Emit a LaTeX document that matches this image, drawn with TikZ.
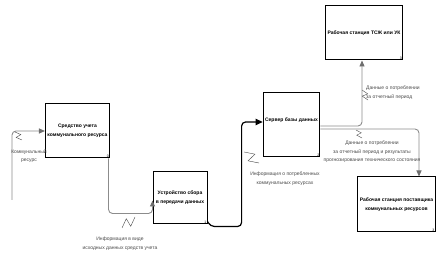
\documentclass[tikz,border=0pt]{standalone}
\usepackage{fontspec}
\setmainfont{Liberation Sans}
\usetikzlibrary{positioning,calc,arrows.meta}
\definecolor{flowgray}{HTML}{8C8C8C}
\definecolor{tipgray}{HTML}{6E6E6E}
\definecolor{labelgray}{HTML}{4A4A4A}
\tikzset{
  % --- function blocks ---
  func/.style={draw=black, line width=1pt, fill=white, align=center,
               font=\fontsize{5}{9}\selectfont\bfseries, inner sep=2pt},
  boxnum/.style={font=\fontsize{3.5}{4}\selectfont, inner sep=1pt,
                 anchor=south east},
  % --- arrows ---
  flow/.style={draw=flowgray, line width=0.9pt, rounded corners=4pt,
               -{Triangle[length=6pt,width=5pt,color=tipgray]}},
  flowmain/.style={draw=black, line width=1.2pt, rounded corners=4pt,
                   -{Triangle[length=7pt,width=6.5pt]}},
  % --- arrow labels ---
  flowlabel/.style={font=\fontsize{5}{8.5}\selectfont, text=labelgray,
                    align=center, inner sep=0pt},
  boltline/.style={draw=labelgray, line width=0.4pt},
}
\newcommand{\bolt}[2]{\draw[boltline] (#1) -- ($(#1)!.6!25:(#2)$)
  -- ($(#2)!.6!25:(#1)$) -- (#2);}

\begin{document}
\begin{tikzpicture}[x=1pt, y=-1pt]
  \useasboundingbox (0,0) rectangle (447,253);

  % --- blocks ---
  \node[func, minimum width=63pt, minimum height=54pt] (meter) at (77.5,131)
        {Средство учета\\коммунального ресурса};
  \node[func, minimum width=54pt, minimum height=52pt] (collect) at (180,198)
        {Устройство сбора\\в передачи данных};
  \node[func, minimum width=55pt, minimum height=64pt, text depth=10pt] (server) at (291.5,125)
        {Сервер базы данных};
  \node[func, minimum width=76pt, minimum height=54pt] (hoa) at (364,33)
        {Рабочая станция ТСЖ или УК};
  \node[func, minimum width=77pt, minimum height=55pt] (supplier) at (396.5,204.5)
        {Рабочая станция поставщика\\коммунальных ресурсов};

  % --- block numbers ---
  \node[boxnum] (n0) at (meter.south east) {0};
  \node[boxnum] (n1) at (collect.south east) {1};
  \node[boxnum] (n2) at (server.south east) {2};
  \node[boxnum] (n3) at (hoa.south east) {3};
  \node[boxnum] (n4) at (supplier.south east) {3};

  % --- arrows ---
  \coordinate (res) at (12,200);
  \draw[flow] (res) |- (meter.west);
  \draw[flow] ($(meter.south east)+(-1.5,0)$) |- ($(collect.south west)+(0,-11)$)
        [sharp corners] -- ($(collect.south west)+(0,-24)$);
  \draw[flowmain] ($(collect.south east)+(0,-3)$) -- ++(3,5)
        -| ($(server.west)+(-21,-3)$) -- ($(server.west)+(0,-3)$);
  \draw[flow] ($(server.east)+(0,1)$) -| ($(hoa.south)+(-2,0)$);
  \draw[flow] ($(server.east)+(0,4)$) -| ($(supplier.north)+(22.5,0)$);

  % --- labels ---
  \node[flowlabel] (lres) at (29,156) {Коммунальный\\ресурс};
  \node[flowlabel] (lsrc) at (120,243.5) {Информация в виде\\исходных данных средств учета};
  \node[flowlabel] (lcons) at (285,178.5) {Информация о потребленных\\коммунальных ресурсах};
  \node[flowlabel, align=left, anchor=west] (lhoa) at (366,92.5)
        {Данные о потреблении\\за отчетный период};
  \node[flowlabel] (lsup) at (372,152)
        {Данные о потреблении\\за отчетный период и результаты\\прогнозирования технического состояния};

  % --- squiggles ---
  \bolt{15,132}{22,140}
  \bolt{122,228}{135,217}
  \bolt{244,152}{259,163}
  \bolt{362,90}{368,100}
  \bolt{356,130}{362,138}
\end{tikzpicture}
\end{document}
